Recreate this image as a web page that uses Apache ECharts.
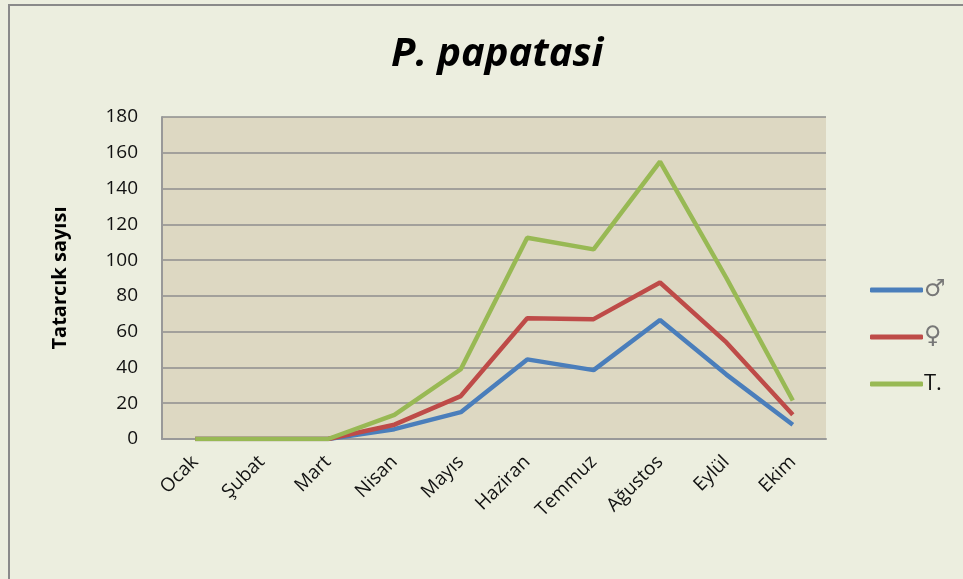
<!DOCTYPE html>
<html>
<head>
<meta charset="utf-8">
<script src="https://cdn.jsdelivr.net/npm/echarts@6/dist/echarts.min.js"></script>
<style>
html,body{margin:0;padding:0;background:#eceedf;}
#chart{width:963px;height:579px;}
</style>
</head>
<body>
<div id="chart"></div>
<script>
// aylar
var months=['Ocak','Şubat','Mart','Nisan','Mayıs','Haziran','Temmuz','Ağustos','Eylül','Ekim'];
var yTicks=[0,20,40,60,80,100,120,140,160,180];
// erkek / dişi / toplam
var males=[0,0,0,5.5,15,44.5,38.5,66.5,36,8];
var females=[0,0,0,8,24,67.5,67,87.5,54,13.5];
var totals=[0,0,0,13.5,39,112.5,106,155,90,21.5];

var chart=echarts.init(document.getElementById('chart'));
chart.setOption({
	backgroundColor:'#eceedf',
	title:{
		text:'P. papatasi',
		left:386,
		top:30,
		textStyle:{
			fontFamily:'Open Sans',
			fontSize:40,
			fontWeight:'bold',
			fontStyle:'italic',
			color:'#000'
		}
	},
	graphic:[{
		type:'polyline',
		shape:{points:[[9,579],[9,5],[963,5]]},
		style:{stroke:'#8a8a8a',lineWidth:2,fill:null}
	}],
	legend:{
		orient:'vertical',
		left:865,
		top:271,
		itemGap:19,
		itemWidth:53,
		itemHeight:5,
		icon:'roundRect',
		textStyle:{fontFamily:'DejaVu Sans',fontSize:24,lineHeight:28,color:'#777',padding:[0,0,0,-4]},
		data:['♂','♀',{name:'T.',textStyle:{color:'#111',fontFamily:'Open Sans',fontSize:22}}]
	},
	grid:{left:162,right:137,top:117,bottom:140,show:true,backgroundColor:'#ddd8c2',borderWidth:0},
	xAxis:{
		type:'category',
		data:months,
		boundaryGap:true,
		axisLine:{lineStyle:{color:'#999',width:2}},
		axisTick:{show:false},
		axisLabel:{rotate:45,margin:20,fontFamily:'Open Sans',fontSize:19,color:'#111'}
	},
	yAxis:{
		type:'value',
		min:yTicks[0],
		max:yTicks[yTicks.length-1],
		interval:20,
		name:'Tatarcık sayısı',
		nameLocation:'middle',
		nameGap:92,
		nameTextStyle:{fontFamily:'Open Sans',fontSize:20,fontWeight:'bold',color:'#000'},
		axisLine:{show:true,lineStyle:{color:'#999',width:2}},
		axisTick:{show:false},
		axisLabel:{margin:24,fontFamily:'Open Sans',fontSize:19,color:'#111'},
		splitLine:{lineStyle:{color:'#8e8e8e',width:1.5}}
	},
	series:[
		{name:'♂',type:'line',data:males,symbol:'none',lineStyle:{width:4.5,color:'#4a7ebb'},itemStyle:{color:'#4a7ebb'}},
		{name:'♀',type:'line',data:females,symbol:'none',lineStyle:{width:4.5,color:'#be4b48'},itemStyle:{color:'#be4b48'}},
		{name:'T.',type:'line',data:totals,symbol:'none',lineStyle:{width:4.5,color:'#98b954'},itemStyle:{color:'#98b954'}}
	]
});
</script>
</body>
</html>
